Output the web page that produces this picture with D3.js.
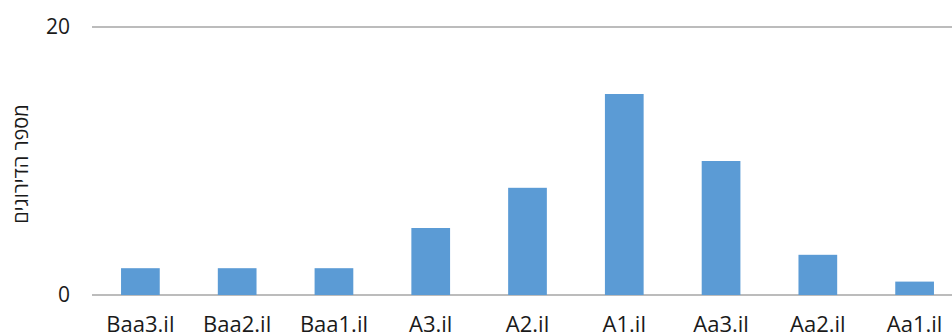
<!DOCTYPE html>
<html>
<head>
<meta charset="utf-8">
<script src="https://cdn.jsdelivr.net/npm/d3@7"></script>
<style>
  html, body { margin: 0; padding: 0; background: #fff; overflow: hidden; }
  svg { display: block; }
  text { font-family: "Open Sans", "Liberation Sans", sans-serif; fill: #1a1a1a; }
</style>
</head>
<body>
<svg id="chart" width="952" height="336"></svg>
<script>
// Rating categories and number of ratings per category
const categories = ["Baa3.il", "Baa2.il", "Baa1.il", "A3.il", "A2.il", "A1.il", "Aa3.il", "Aa2.il", "Aa1.il"];
const counts = [2, 2, 2, 5, 8, 15, 10, 3, 1];
const yTicks = [0, 20];
const yTitle = "מספר הדירוגים";

const svg = d3.select("#chart");
const margin = { left: 92, right: -11, top: 27, bottom: 41 };
const width = 952 - margin.left - margin.right;
const height = 336 - margin.top - margin.bottom;

const x = d3.scaleBand().domain(categories).range([margin.left, margin.left + width]).paddingInner(0.6).paddingOuter(0.3);
const y = d3.scaleLinear().domain([0, 20]).range([margin.top + height, margin.top]);

// horizontal gridlines
svg.append("g")
  .selectAll("line")
  .data(yTicks)
  .join("line")
  .attr("x1", margin.left)
  .attr("x2", margin.left + width)
  .attr("y1", d => y(d))
  .attr("y2", d => y(d))
  .attr("stroke", "#a6a6a6")
  .attr("stroke-width", 1.3);

// bars
svg.append("g")
  .selectAll("rect")
  .data(categories.map((c, i) => ({ c, v: counts[i] })))
  .join("rect")
  .attr("x", d => x(d.c))
  .attr("width", x.bandwidth())
  .attr("y", d => y(d.v))
  .attr("height", d => y(0) - y(d.v))
  .attr("fill", "#5b9bd5");

// y axis labels
const yAxis = svg.append("g")
  .attr("transform", `translate(${margin.left},0)`)
  .call(d3.axisLeft(y).tickValues(yTicks).tickSize(0).tickPadding(22));
yAxis.select(".domain").remove();
yAxis.selectAll("text").style("font-size", "21px").style("font-family", null).attr("fill", "#1a1a1a");

// x axis labels
const xAxis = svg.append("g")
  .attr("transform", `translate(0,${y(0)})`)
  .call(d3.axisBottom(x).tickSize(0).tickPadding(21));
xAxis.select(".domain").remove();
xAxis.selectAll("text").style("font-size", "22px").style("font-family", null).attr("fill", "#1a1a1a");

// y axis title
svg.append("text")
  .attr("transform", `translate(28,164) rotate(-90)`)
  .attr("text-anchor", "middle")
  .style("font-size", "20px")
  .text(yTitle);
</script>
</body>
</html>
